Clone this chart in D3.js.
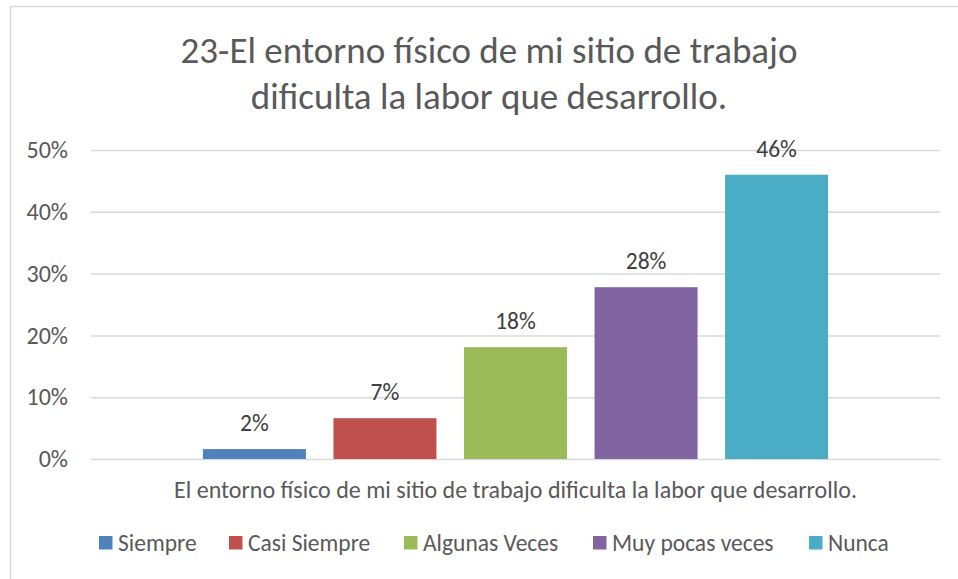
<!DOCTYPE html>
<html><head><meta charset="utf-8">
<script src="https://cdn.jsdelivr.net/npm/d3@7"></script>
<style>
html,body{margin:0;padding:0;background:#fff;}
svg text{font-family:Carlito,Calibri,Lato,sans-serif;}
</style></head>
<body><svg id="c" width="958" height="579"></svg>
<script>
const titleLines = ["23-El entorno físico de mi sitio de trabajo", "dificulta la labor que desarrollo."];
const categories = ["El entorno físico de mi sitio de trabajo dificulta la labor que desarrollo."];
const seriesNames = ["Siempre", "Casi Siempre", "Algunas Veces", "Muy pocas veces", "Nunca"];
const seriesValues = [0.016, 0.066, 0.181, 0.278, 0.46];
const seriesLabels = ["2%", "7%", "18%", "28%", "46%"];
const seriesColors = ["#4F81BD", "#C0504D", "#9BBB59", "#8064A2", "#4BACC6"];
const yTicks = [0, 0.1, 0.2, 0.3, 0.4, 0.5];

const svg = d3.select("#c");
svg.append("rect").attr("x",10.5).attr("y",6.5).attr("width",1000).attr("height",1000)
  .attr("fill","#fff").attr("stroke","#D9D9D9").attr("stroke-width",1.5);

const plot = {left:91, right:940, top:150, bottom:459};
const y = d3.scaleLinear().domain([0,0.5]).range([plot.bottom, plot.top]);
const x0 = d3.scaleBand().domain(categories).range([plot.left, plot.right]).paddingInner(0).paddingOuter(0.179);
const x1 = d3.scaleBand().domain(seriesNames).range([0, x0.bandwidth()]).paddingInner(0.211).paddingOuter(0);

const yAxis = d3.axisLeft(y).tickValues(yTicks).tickFormat(d3.format(".0%")).tickSize(-(plot.right-plot.left)).tickPadding(23);
const ga = svg.append("g").attr("transform",`translate(${plot.left},0)`).call(yAxis);
ga.select(".domain").remove();
ga.selectAll(".tick line").attr("stroke","#D9D9D9").attr("stroke-width",1.5);
ga.selectAll(".tick text").attr("fill","#595959").attr("font-size",24).style("font-family","Carlito,Calibri,Lato,sans-serif");

const g = svg.append("g");
categories.forEach(cat => {
  const gx = x0(cat);
  seriesNames.forEach((s,i) => {
    const v = seriesValues[i];
    g.append("rect").attr("x", gx + x1(s)).attr("y", y(v))
      .attr("width", x1.bandwidth()).attr("height", y(0)-y(v)).attr("fill", seriesColors[i]);
    g.append("text").attr("x", gx + x1(s) + x1.bandwidth()/2).attr("y", y(v)-18)
      .attr("text-anchor","middle").attr("font-size",23.5).attr("fill","#404040").text(seriesLabels[i]);
  });
  svg.append("text").attr("x", gx + x0.bandwidth()/2).attr("y", 498)
    .attr("text-anchor","middle").attr("font-size",24).attr("fill","#595959").text(cat);
});

svg.append("text").attr("x",489).attr("y",63).attr("text-anchor","middle").attr("font-size",37).attr("fill","#595959")
  .selectAll("tspan").data(titleLines).join("tspan").attr("x",489).attr("dy",(d,i)=>i?46:0).text(d=>d);

const legendX = [99, 229, 404, 593, 809];
const lg = svg.append("g");
seriesNames.forEach((s,i) => {
  lg.append("rect").attr("x",legendX[i]).attr("y",536).attr("width",13.5).attr("height",13.5).attr("fill",seriesColors[i]);
  lg.append("text").attr("x",legendX[i]+19).attr("y",551).attr("font-size",23.5).attr("fill","#595959").text(s);
});
</script></body></html>
